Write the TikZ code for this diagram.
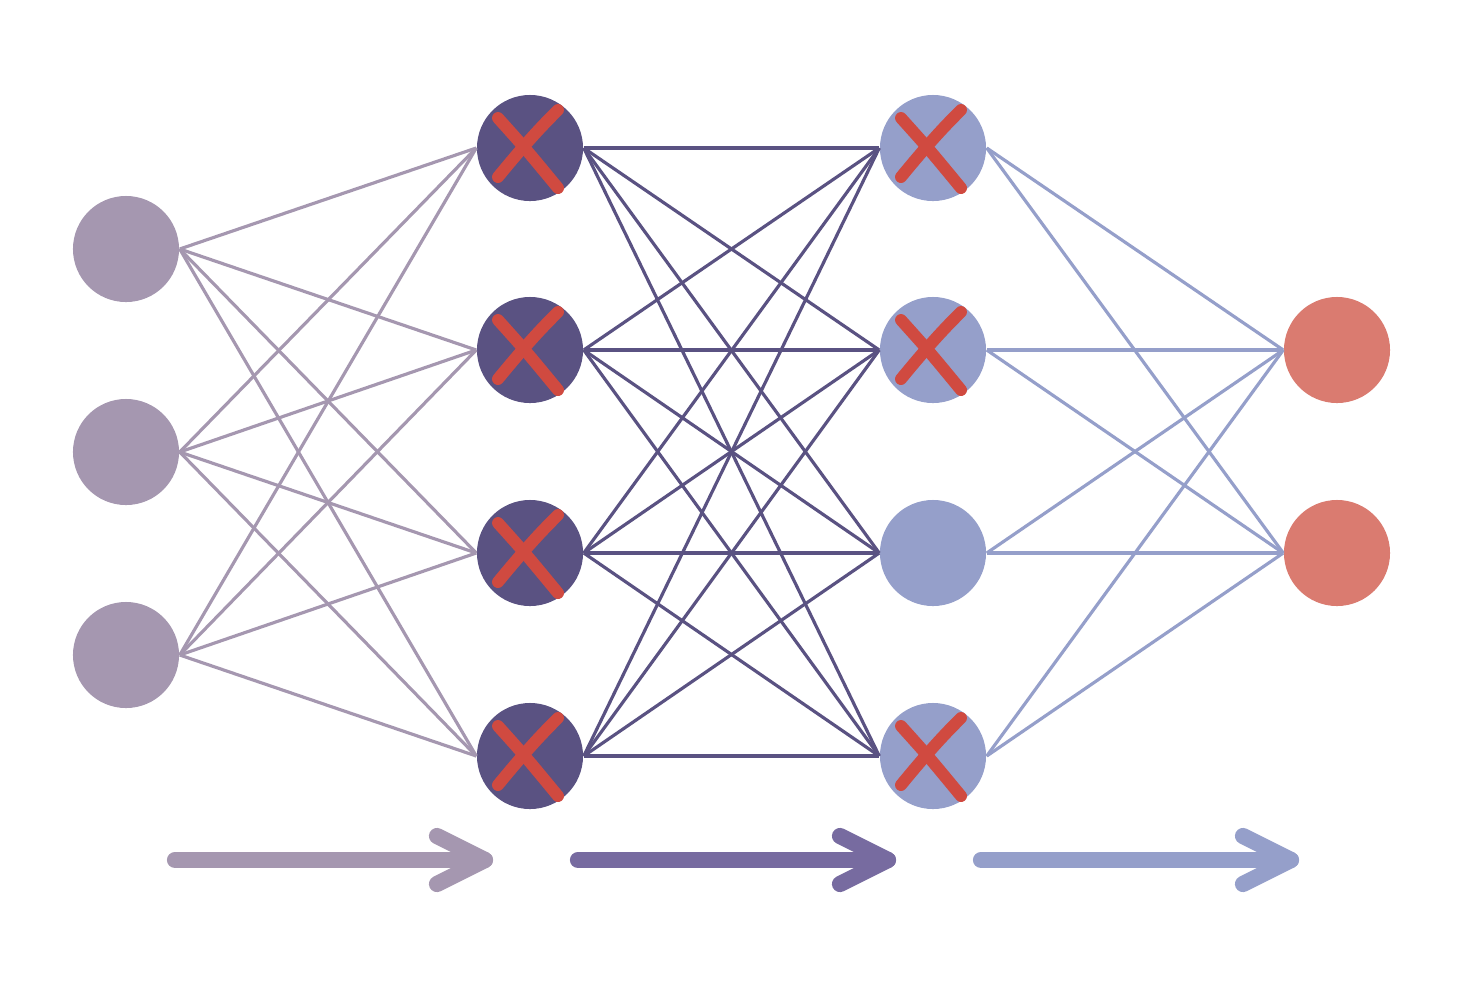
\documentclass[tikz,border=0pt]{standalone}
\begin{document}
\begin{tikzpicture}[x=0.01cm,y=-0.01cm,
  neuron/.style={circle,minimum size=1.06cm,inner sep=0pt},
  edgeA/.style={draw=cA,line width=0.9pt},
  edgeB/.style={draw=cB,line width=0.9pt},
  edgeC/.style={draw=cC,line width=0.9pt},
  bigarrow/.style={line width=4.6pt,line cap=round,line join=round},
  cross/.style={draw=cX,line width=3.4pt,line cap=round}]
\definecolor{cA}{HTML}{A597B0}
\definecolor{cB}{HTML}{5A5282}
\definecolor{cC}{HTML}{959FCA}
\definecolor{cD}{HTML}{DA7B70}
\definecolor{cM}{HTML}{776BA0}
\definecolor{cX}{HTML}{D04A40}
\useasboundingbox (0,0) rectangle (1472,996);
\foreach \i/\y in {1/249,2/452,3/655} \node[neuron,fill=cA] (a\i) at (126,\y) {};
\foreach \i/\y in {1/148,2/350,3/553,4/756} \node[neuron,fill=cB] (b\i) at (530,\y) {};
\foreach \i/\y in {1/148,2/350,3/553,4/756} \node[neuron,fill=cC] (c\i) at (933,\y) {};
\foreach \i/\y in {1/350,2/553} \node[neuron,fill=cD] (d\i) at (1337,\y) {};
\foreach \i in {1,2,3} \foreach \j in {1,2,3,4} \draw[edgeA] (a\i.east) -- (b\j.west);
\foreach \i in {1,2,3,4} \foreach \j in {1,2,3,4} \draw[edgeB] (b\i.east) -- (c\j.west);
\foreach \i in {1,2,3,4} \foreach \j in {1,2} \draw[edgeC] (c\i.east) -- (d\j.west);
\foreach \n in {b1,b2,b3,b4,c1,c2,c4} {
  \draw[cross] ([shift={(-32,-30)}]\n.center) .. controls ([shift={(-5,0)}]\n.center) .. ([shift={(28,40)}]\n.center);
  \draw[cross] ([shift={(-32,29)}]\n.center) .. controls ([shift={(0,-10)}]\n.center) and ([shift={(15,-25)}]\n.center) .. ([shift={(28,-38)}]\n.center);
}
\foreach \s/\c/\k in {175/cA/1,578/cM/2,981/cC/3} {
  \coordinate (s\k) at (\s,860);
  \coordinate (t\k) at (\s+310,860);
  \coordinate (u\k) at (\s+262,836);
  \coordinate (v\k) at (\s+262,884);
  \draw[bigarrow,draw=\c] (s\k) -- (t\k);
  \draw[bigarrow,draw=\c] (u\k) -- (t\k) -- (v\k);
}
\end{tikzpicture}
\end{document}
